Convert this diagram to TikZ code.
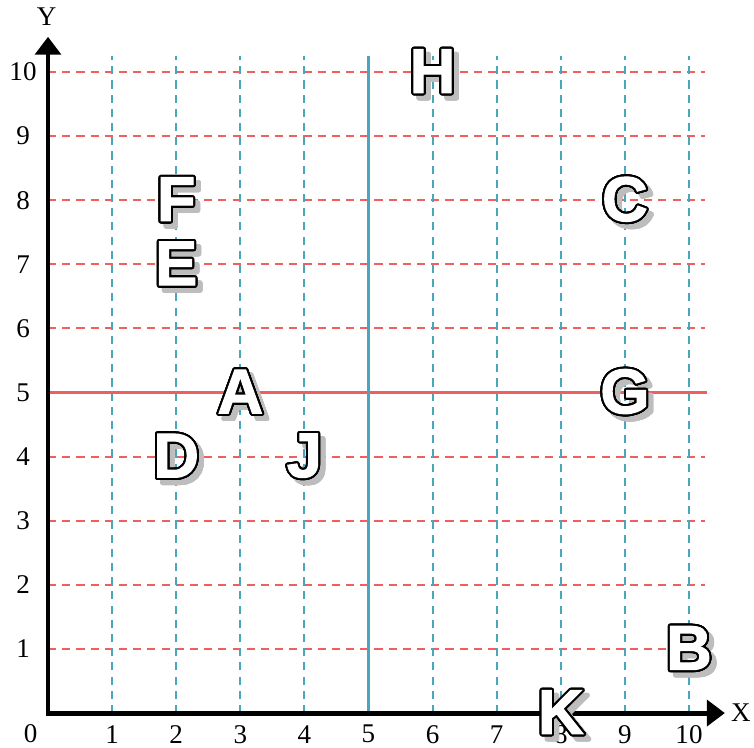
\documentclass[tikz,border=0pt]{standalone}
\usepackage{fontspec}
\setmainfont{Liberation Serif}
\newfontfamily\letterfont[FakeBold=1.8]{Liberation Sans Bold}
\usepackage[copies]{contour}
\usepackage{tikz}
\usetikzlibrary{arrows.meta,calc}
\definecolor{GridRed}{HTML}{EF5F5F}
\definecolor{GridTeal}{HTML}{4AA6BC}
\definecolor{ShadowGray}{HTML}{BDBDBD}
\contourlength{0.9pt}
\contournumber{32}

\begin{document}
\begin{tikzpicture}[font=\fontsize{12}{14}\selectfont,>={Triangle[length=0.28cm,width=0.40cm]},
  hgrid/.style={GridRed,line width=0.85pt,dash pattern=on 3.6pt off 2.7pt},
  vgrid/.style={GridTeal,line width=0.9pt,dash pattern=on 3.6pt off 2.7pt},
  axis/.style={line width=2.2pt},
  tick/.style={inner sep=0pt},
  letter/.style={text=white,inner sep=0pt,font=\letterfont\fontsize{28}{28}\selectfont},
  lettershadow/.style={letter,text=ShadowGray}]
  \useasboundingbox (-0.749,-0.530) rectangle (11.014,11.124);
  % grid
  \foreach \i in {1,2,3,4,6,7,8,9,10}
    \draw[hgrid] (0,\i) -- (10.25,\i);
  \foreach \i in {1,2,3,4,6,7,8,9,10}
    \draw[vgrid] (\i,0) -- (\i,10.25);
  \draw[GridRed,line width=1.1pt] (0,5) -- (10.28,5);
  \draw[GridTeal,line width=1.3pt] (5,0) -- (5,10.25);
  % axes
  \coordinate (O) at (0,0);
  \coordinate (xtip) at (10.56,0);
  \coordinate (ytip) at (0,10.55);
  \draw[axis,<->] (ytip) -- (O) -- (xtip);
  \node[tick] (xlab) at (10.81,0) {X};
  \node[tick] (ylab) at (-0.02,10.87) {Y};
  \node[tick] (xl0) at (-0.27,-0.32) {0};
  \foreach \i in {1,...,10} {
    \node[tick] (xl\i) at (\i,-0.33) {\i};
    \node[tick] (yl\i) at (-0.39,\i) {\i};
  }
  % letters
  \foreach \name/\x/\y in {A/3/5,B/10/1,C/9/8,D/2/4,E/2/7,F/2/8,G/9/5,H/6/10,J/4/4,K/8/0} {
    \node[lettershadow] (\name s) at (\x+0.08,\y-0.08) {\contour{ShadowGray}{\name}};
    \node[letter] (\name) at (\x,\y) {\contour{black}{\name}};
  }
\end{tikzpicture}
\end{document}
